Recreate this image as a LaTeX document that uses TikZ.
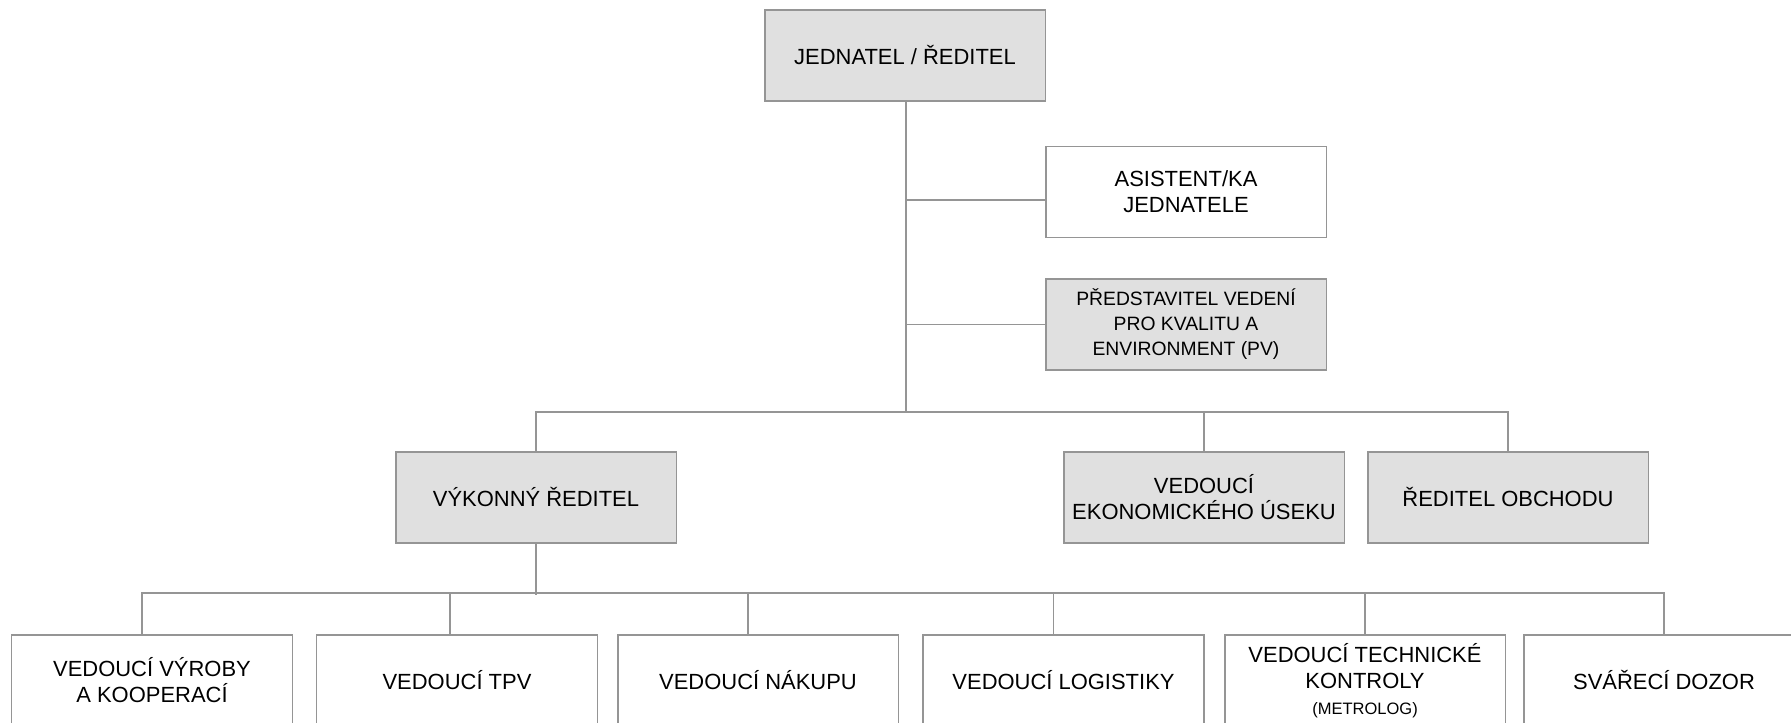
\documentclass[tikz,border=0pt]{standalone}
\usepackage{fontspec}
\setmainfont{Liberation Sans}
\usetikzlibrary{calc}
\definecolor{boxgray}{HTML}{E0E0E0}
\definecolor{linegray}{HTML}{959595}
\tikzset{
  unitbox/.style={draw=linegray, line width=1.1pt, minimum width=5.62cm, minimum height=1.82cm,
    align=center, inner sep=2pt, font=\fontsize{12.5}{14.8}\selectfont},
  greybox/.style={unitbox, fill=boxgray},
  plainbox/.style={unitbox, fill=white},
  link/.style={draw=linegray, line width=1.1pt}
}

\begin{document}
\begin{tikzpicture}[x=0.02cm, y=-0.02cm]
  \clip (0,0) rectangle (1791,723);
  % top of the chart
  \node[greybox] (jed) at (905,55.5) {JEDNATEL / ŘEDITEL};
  \node[plainbox] (asi) at (1186,192) {ASISTENT/KA\\JEDNATELE};
  \node[greybox, font=\fontsize{11}{14.2}\selectfont] (pv) at (1186,324.5)
    {PŘEDSTAVITEL VEDENÍ\\PRO KVALITU A\\ENVIRONMENT (PV)};
  % second level
  \node[greybox] (vyk) at (536,497.5) {VÝKONNÝ ŘEDITEL};
  \node[greybox] (eko) at (1204,497.5) {VEDOUCÍ\\EKONOMICKÉHO ÚSEKU};
  \node[greybox] (obc) at (1508,497.5) {ŘEDITEL OBCHODU};
  % third level
  \node[plainbox] (vyr) at (152,680.5) {VEDOUCÍ VÝROBY\\A KOOPERACÍ};
  \node[plainbox] (tpv) at (457,680.5) {VEDOUCÍ TPV};
  \node[plainbox] (nak) at (758,680.5) {VEDOUCÍ NÁKUPU};
  \node[plainbox] (log) at (1063.5,680.5) {VEDOUCÍ LOGISTIKY};
  \node[plainbox] (tk) at (1365,680.5)
    {VEDOUCÍ TECHNICKÉ\\KONTROLY\\{\fontsize{9.4}{14.8}\selectfont (METROLOG)}};
  \node[plainbox] (svd) at (1664,680.5) {SVÁŘECÍ DOZOR};
  \coordinate (busa) at (906,412);
  \coordinate (busb) at (536,593);
  % connectors
  \draw[link] (jed.south -| busa) -- (busa);
  \draw[link] ($(busa |- asi.west)+(0,8)$) -- ($(asi.west)+(0,8)$);
  \draw[link] (busa |- pv.west) -- (pv.west);
  \draw[link] (vyk.north) |- (obc.north |- busa) -- (obc.north);
  \draw[link] (eko.north) -- (eko.north |- busa);
  \draw[link] (vyk.south) -- ($(busb)+(0,2)$);
  \draw[link] ($(vyr.north)+(-10,0)$) |- (svd.north |- busb) -- (svd.north);
  \foreach \n/\dx in {tpv/-7,nak/-10,log/-10,tk/0}
    \draw[link] ($(\n.north)+(\dx,0)$) -- ($(\n.north |- busb)+(\dx,0)$);
\end{tikzpicture}
\end{document}
